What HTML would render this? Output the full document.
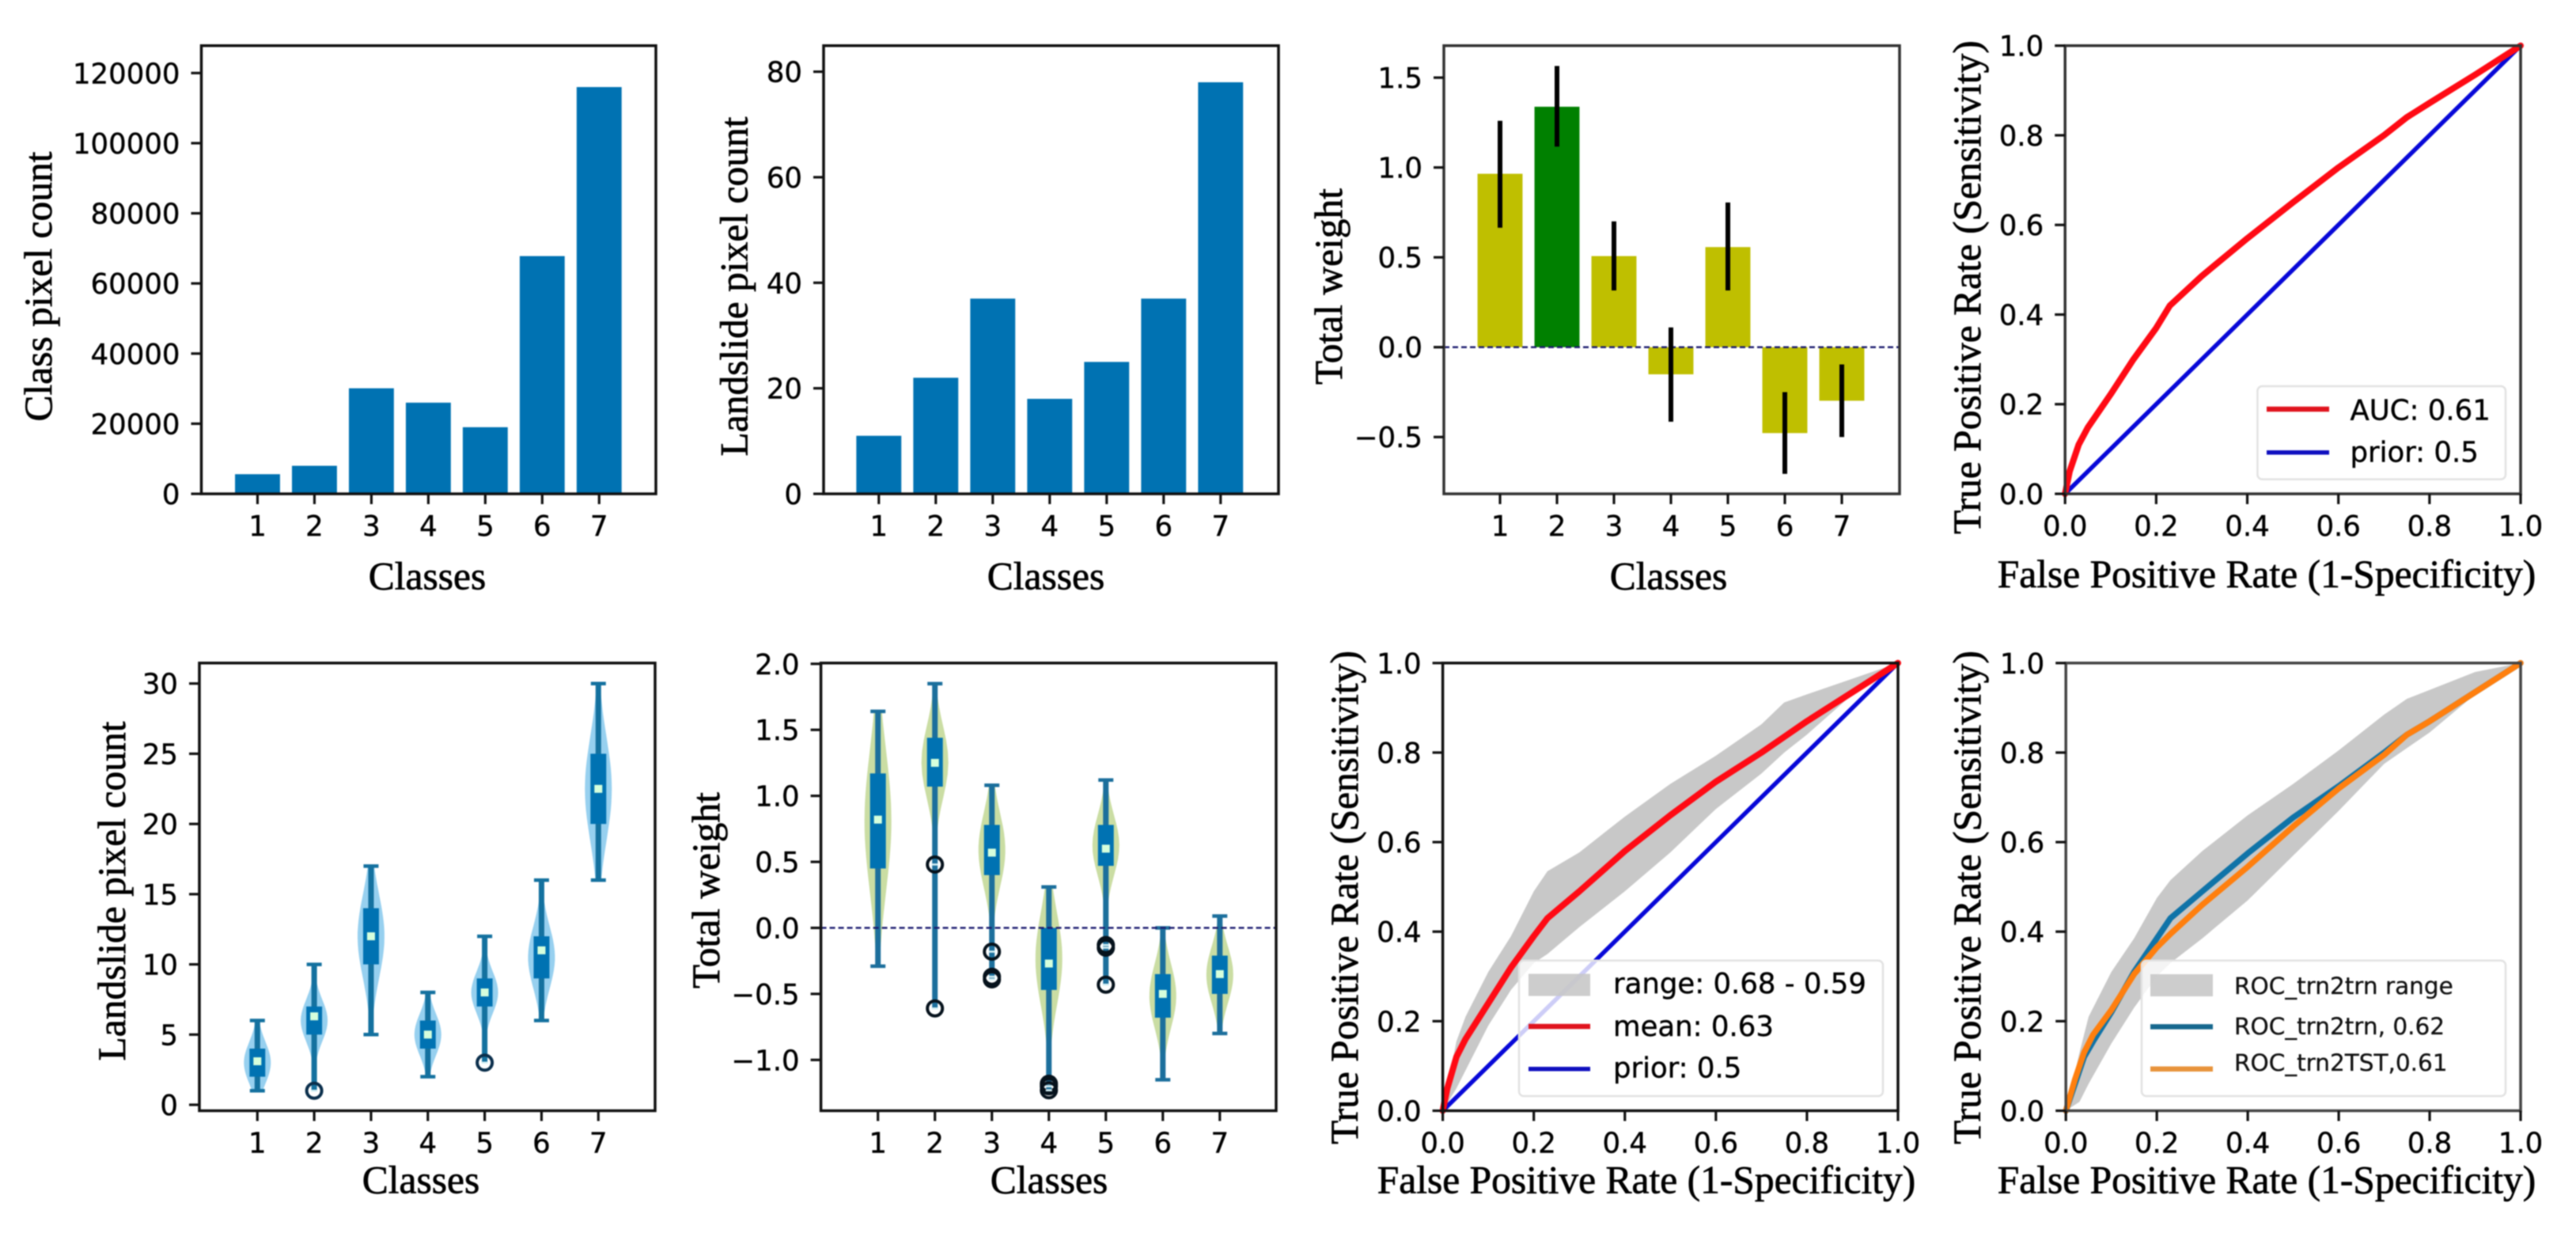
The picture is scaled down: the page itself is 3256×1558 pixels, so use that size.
<!DOCTYPE html>
<html lang="en">
<head>
<meta charset="utf-8">
<title>Landslide class statistics and ROC curves</title>
<style>
html,body{margin:0;padding:0;background:#fff;}
#figure{position:relative;width:3256px;height:1558px;overflow:hidden;background:#fff;}
svg{display:block;filter:blur(0.9px);}
.tick{font-family:"DejaVu Sans",sans-serif;font-size:35.5px;fill:#000;stroke:#000;stroke-width:.4px;}
.axis-label{font-family:"Liberation Serif",serif;font-size:49.5px;fill:#000;stroke:#000;stroke-width:.7px;}
.leg{font-family:"DejaVu Sans",sans-serif;font-size:35.5px;fill:#000;stroke:#000;stroke-width:.4px;}
.leg-small{font-family:"DejaVu Sans",sans-serif;font-size:29.5px;fill:#111;stroke:#111;stroke-width:.3px;}
</style>
</head>
<body>
<div id="figure">
<svg id="chart" width="3256" height="1558" viewBox="0 0 3256 1558" xmlns="http://www.w3.org/2000/svg"></svg>
</div>
<script>
// ---------- data ----------
const classes = [1, 2, 3, 4, 5, 6, 7];

const classPixelCounts = [5600, 8000, 30100, 26000, 19000, 67800, 116000];
const classPixelTicks = [0, 20000, 40000, 60000, 80000, 100000, 120000];
const classPixelTickLabels = ['0', '20000', '40000', '60000', '80000', '100000', '120000'];

const landslidePixelCounts = [11, 22, 37, 18, 25, 37, 78];
const landslideTicks = [0, 20, 40, 60, 80];
const landslideTickLabels = ['0', '20', '40', '60', '80'];

const totalWeights = [0.965, 1.338, 0.507, -0.151, 0.557, -0.478, -0.298];
const totalWeightErrLow = [0.665, 1.116, 0.316, -0.415, 0.316, -0.705, -0.50];
const totalWeightErrHigh = [1.26, 1.565, 0.70, 0.11, 0.805, -0.25, -0.096];
const bestClassIndex = 1;
const weightBarTicks = [-0.5, 0, 0.5, 1, 1.5];
const weightBarTickLabels = ['\u22120.5', '0.0', '0.5', '1.0', '1.5'];

const countMin = [1, 2, 5, 2, 4, 6, 16];
const countQ1 = [2, 5, 10, 4, 7, 9, 20];
const countMean = [3.1, 6.3, 12, 5, 8, 11, 22.5];
const countQ3 = [4, 7, 14, 6, 9, 12, 25];
const countMax = [6, 10, 17, 8, 12, 16, 30];
const countOutliers = [[], [1], [], [], [3], [], []];
const countTicks = [0, 5, 10, 15, 20, 25, 30];
const countTickLabels = ['0', '5', '10', '15', '20', '25', '30'];

const weightMin = [-0.29, -0.55, -0.35, -1.1, -0.4, -1.15, -0.8];
const weightQ1 = [0.45, 1.07, 0.40, -0.47, 0.47, -0.68, -0.5];
const weightMean = [0.82, 1.25, 0.57, -0.27, 0.6, -0.5, -0.35];
const weightQ3 = [1.17, 1.44, 0.78, 0, 0.78, -0.35, -0.21];
const weightMax = [1.64, 1.85, 1.08, 0.31, 1.12, 0, 0.09];
const weightOutliers = [[], [0.48, -0.61], [-0.18, -0.37, -0.39], [-1.18, -1.2, -1.23], [-0.13, -0.15, -0.43], [], []];
const weightTicks = [-1, -0.5, 0, 0.5, 1, 1.5, 2];
const weightTickLabels = ['\u22121.0', '\u22120.5', '0.0', '0.5', '1.0', '1.5', '2.0'];

const rocTicks = [0, 0.2, 0.4, 0.6, 0.8, 1];
const rocTickLabels = ['0.0', '0.2', '0.4', '0.6', '0.8', '1.0'];
const priorFpr = [0, 1];
const priorTpr = [0, 1];

const singleFpr = [0, 0.01, 0.03, 0.05, 0.1, 0.15, 0.2, 0.23, 0.3, 0.4, 0.5, 0.6, 0.7, 0.75, 0.8, 0.9, 1];
const singleTpr = [0, 0.05, 0.11, 0.148, 0.222, 0.30, 0.37, 0.42, 0.486, 0.57, 0.65, 0.728, 0.80, 0.84, 0.872, 0.935, 1];

const meanFpr = [0, 0.01, 0.03, 0.05, 0.1, 0.15, 0.2, 0.23, 0.3, 0.4, 0.5, 0.6, 0.7, 0.75, 0.8, 0.9, 1];
const meanTpr = [0, 0.05, 0.12, 0.16, 0.24, 0.32, 0.39, 0.43, 0.49, 0.58, 0.66, 0.735, 0.80, 0.835, 0.87, 0.935, 1];

const bandFpr = [0, 0.03, 0.05, 0.1, 0.15, 0.2, 0.23, 0.3, 0.4, 0.5, 0.6, 0.7, 0.75, 0.8, 0.9, 1];
const meanBandLow = [0, 0.05, 0.09, 0.19, 0.27, 0.33, 0.35, 0.41, 0.49, 0.577, 0.674, 0.753, 0.80, 0.84, 0.93, 1];
const meanBandHigh = [0, 0.155, 0.21, 0.31, 0.39, 0.49, 0.535, 0.577, 0.657, 0.73, 0.793, 0.863, 0.912, 0.93, 0.965, 1];
const trnBandLow = [0, 0.02, 0.06, 0.15, 0.23, 0.30, 0.33, 0.385, 0.47, 0.57, 0.67, 0.775, 0.81, 0.845, 0.93, 1];
const trnBandHigh = [0, 0.13, 0.21, 0.31, 0.385, 0.475, 0.515, 0.58, 0.66, 0.73, 0.805, 0.885, 0.92, 0.94, 0.98, 1];

const trnFpr = [0, 0.02, 0.04, 0.06, 0.1, 0.15, 0.2, 0.23, 0.3, 0.4, 0.5, 0.6, 0.7, 0.75, 0.8, 0.9, 1];
const trnTpr = [0, 0.06, 0.12, 0.155, 0.22, 0.31, 0.385, 0.43, 0.49, 0.575, 0.655, 0.725, 0.80, 0.84, 0.87, 0.935, 1];
const tstFpr = [0, 0.02, 0.04, 0.06, 0.1, 0.15, 0.2, 0.23, 0.3, 0.4, 0.5, 0.6, 0.7, 0.75, 0.8, 0.9, 1];
const tstTpr = [0, 0.07, 0.13, 0.17, 0.225, 0.305, 0.365, 0.395, 0.46, 0.545, 0.635, 0.72, 0.795, 0.84, 0.87, 0.935, 1];

// ---------- helpers ----------
const NS = 'http://www.w3.org/2000/svg';
const root = document.getElementById('chart');

function mk(tag, attrs, parent) {
  const el = document.createElementNS(NS, tag);
  for (const k in attrs) el.setAttribute(k, attrs[k]);
  parent.appendChild(el);
  return el;
}
function linear(d0, d1, p0, p1) {
  return function (v) { return p0 + (v - d0) * (p1 - p0) / (d1 - d0); };
}
function linePath(xs, ys, sx, sy) {
  return xs.map(function (x, i) { return (i ? 'L' : 'M') + sx(x).toFixed(2) + ' ' + sy(ys[i]).toFixed(2); }).join('');
}

// Frame, ticks, tick labels and axis titles for one panel.
function axes(p) {
  const g = mk('g', {}, root);
  
  
  const marks = mk('g', {}, g);
  
  
  const frameGroup = mk('g', {}, root);
  
  
  const frame = mk('rect', {x: p.left, y: p.top, width: p.right - p.left, height: p.bottom - p.top, fill: 'none', stroke: p.color, 'stroke-width': 3.5}, frameGroup);
  
  
  p.xTicks.forEach(function (v, i) {
    const t = mk('line', {x1: p.sx(v), x2: p.sx(v), y1: p.bottom, y2: p.bottom + 13, stroke: '#111', 'stroke-width': 3.2}, frameGroup);
    
    
    const l = mk('text', {x: p.sx(v), y: p.bottom + 53, 'text-anchor': 'middle', class: 'tick'}, frameGroup);
    l.textContent = p.xLabels[i];
    
    
  });
  p.yTicks.forEach(function (v, i) {
    const t = mk('line', {x1: p.left - 13, x2: p.left, y1: p.sy(v), y2: p.sy(v), stroke: '#111', 'stroke-width': 3.2}, frameGroup);
    
    
    const l = mk('text', {x: p.left - 27, y: p.sy(v) + 13, 'text-anchor': 'end', class: 'tick'}, frameGroup);
    l.textContent = p.yLabels[i];
    
    
  });
  const xt = mk('text', {x: p.xTitleX, y: p.xTitleY, 'text-anchor': 'middle', class: 'axis-label'}, frameGroup);
  xt.textContent = p.xTitle;
  
  
  const yt = mk('text', {transform: 'translate(' + p.yTitleX + ',' + p.yTitleY + ') rotate(-90)', 'text-anchor': 'middle', class: 'axis-label'}, frameGroup);
  yt.textContent = p.yTitle;
  
  
  return marks;
}

function barPanel(marks, p, values, colorOf) {
  const w = 0.79 * (p.sx(2) - p.sx(1));
  values.forEach(function (v, i) {
    const y0 = p.sy(0), y1 = p.sy(v);
    const b = mk('rect', {x: p.sx(classes[i]) - w / 2, y: Math.min(y0, y1), width: w, height: Math.abs(y1 - y0), fill: colorOf(i)}, marks);
    
    
  });
}

function violinPanel(marks, p, st, style) {
  classes.forEach(function (c, i) {
    const x = p.sx(c);
    const centre = (st.q1[i] + st.q3[i]) / 2;
    const sigma = Math.max((st.q3[i] - st.q1[i]) / 1.35, 1e-6);
    const left = [], right = [];
    const steps = 28;
    for (let k = 0; k <= steps; k++) {
      const v = st.min[i] + (st.max[i] - st.min[i]) * k / steps;
      const hw = style.halfWidth * Math.exp(-0.5 * Math.pow((v - centre) / sigma, 2));
      left.push((x - hw).toFixed(1) + ',' + p.sy(v).toFixed(1));
      right.unshift((x + hw).toFixed(1) + ',' + p.sy(v).toFixed(1));
    }
    const shape = mk('polygon', {points: left.concat(right).join(' '), fill: style.violin, 'fill-opacity': style.opacity}, marks);
    
    

    const bottomWhisker = st.out[i].length ? Math.min.apply(null, st.out[i].concat(st.min[i])) : st.min[i];
    const whisk = mk('line', {x1: x, x2: x, y1: p.sy(st.max[i]), y2: p.sy(bottomWhisker), stroke: style.whisker, 'stroke-width': 7}, marks);
    
    

    const capTop = mk('line', {x1: x - 9.5, x2: x + 9.5, y1: p.sy(st.max[i]), y2: p.sy(st.max[i]), stroke: style.whisker, 'stroke-width': 4.5}, marks);
    
    

    if (!st.out[i].length) {
      const capLow = mk('line', {x1: x - 9.5, x2: x + 9.5, y1: p.sy(st.min[i]), y2: p.sy(st.min[i]), stroke: style.whisker, 'stroke-width': 4.5}, marks);
      
      
    }

    const box = mk('rect', {x: x - 10, y: p.sy(st.q3[i]), width: 20, height: p.sy(st.q1[i]) - p.sy(st.q3[i]), fill: '#0072b2'}, marks);
    
    

    const dot = mk('rect', {x: x - 5, y: p.sy(st.mean[i]) - 5, width: 10, height: 10, fill: '#d6ffdc'}, marks);
    
    

    st.out[i].forEach(function (o, j) {
      const ring = mk('circle', {cx: x, cy: p.sy(o), r: 9.5, fill: 'none', stroke: style.ring, 'stroke-width': 4}, marks);
      
      
      const dash = mk('line', {x1: x - 4, x2: x + 4, y1: p.sy(o), y2: p.sy(o), stroke: '#d6f0f5', 'stroke-width': 2.5}, marks);
      
      
    });
  });
}

function zeroLine(marks, p) {
  const z = mk('line', {x1: p.left, x2: p.right, y1: p.sy(0), y2: p.sy(0), stroke: '#1a1a6e', 'stroke-width': 2.4, 'stroke-dasharray': '7 4'}, marks);
  
  
}

function band(marks, p, fpr, low, high, name) {
  const up = fpr.map(function (x, i) { return p.sx(x).toFixed(2) + ',' + p.sy(high[i]).toFixed(2); });
  const dn = fpr.map(function (x, i) { return p.sx(x).toFixed(2) + ',' + p.sy(low[i]).toFixed(2); }).reverse();
  const b = mk('polygon', {points: up.concat(dn).join(' '), fill: '#c8c8c8'}, marks);
  
  
}
function curve(marks, p, xs, ys, color, width, name) {
  const c = mk('path', {d: linePath(xs, ys, p.sx, p.sy), fill: 'none', stroke: color, 'stroke-width': width, 'stroke-linejoin': 'round', 'stroke-linecap': 'round'}, marks);
  
  
}

function legend(box, entries, textClass) {
  const g = mk('g', {}, root);
  
  
  const r = mk('rect', {x: box.x, y: box.y, width: box.w, height: box.h, rx: 6, fill: 'rgba(255,255,255,0.8)', stroke: '#e2e2e2', 'stroke-width': 2.5}, g);
  
  
  entries.forEach(function (e) {
    let sw;
    if (e.patch) {
      sw = mk('rect', {x: box.sx, y: e.sy - 14, width: box.sw, height: 28, fill: '#c8c8c8', 'fill-opacity': 0.9}, g);
    } else {
      sw = mk('line', {x1: box.sx, x2: box.sx + box.sw, y1: e.sy, y2: e.sy, stroke: e.color, 'stroke-width': e.width}, g);
    }
    
    
    const t = mk('text', {x: box.tx, y: e.ty, class: textClass}, g);
    t.textContent = e.label;
    
    
  });
}

// ---------- top row ----------
const TOP1 = 57.7, BOT1 = 624, TOP2 = 837.8, BOT2 = 1403.5;

const p1 = {name: 'class-pixel-count-panel', left: 254.5, right: 829, top: TOP1, bottom: BOT1, color: '#111',
  sx: linear(1, 7, 325.5, 757.3), sy: linear(0, 120000, 624, 92.3),
  xTicks: classes, xLabels: classes.map(String), yTicks: classPixelTicks, yLabels: classPixelTickLabels,
  xTitle: 'Classes', xTitleX: 540, xTitleY: 744.5, yTitle: 'Class pixel count', yTitleX: 65, yTitleY: 362};
barPanel(axes(p1), p1, classPixelCounts, function () { return '#0072b2'; });

const p2 = {name: 'landslide-pixel-count-panel', left: 1041, right: 1616, top: TOP1, bottom: BOT1, color: '#111',
  sx: linear(1, 7, 1110.8, 1542.8), sy: linear(0, 80, 624, 90.6),
  xTicks: classes, xLabels: classes.map(String), yTicks: landslideTicks, yLabels: landslideTickLabels,
  xTitle: 'Classes', xTitleX: 1322, xTitleY: 744.5, yTitle: 'Landslide pixel count', yTitleX: 944.5, yTitleY: 362};
barPanel(axes(p2), p2, landslidePixelCounts, function () { return '#0072b2'; });

const p3 = {name: 'total-weight-bar-panel', left: 1825, right: 2401, top: TOP1, bottom: BOT1, color: '#333',
  sx: linear(1, 7, 1896, 2328), sy: linear(0, 1.5, 438.7, 98.1),
  xTicks: classes, xLabels: classes.map(String), yTicks: weightBarTicks, yLabels: weightBarTickLabels,
  xTitle: 'Classes', xTitleX: 2109, xTitleY: 744.5, yTitle: 'Total weight', yTitleX: 1696, yTitleY: 362};
const m3 = axes(p3);
barPanel(m3, p3, totalWeights, function (i) { return i === bestClassIndex ? '#008000' : '#bfbf00'; });
zeroLine(m3, p3);
classes.forEach(function (c, i) {
  const e = mk('line', {x1: p3.sx(c), x2: p3.sx(c), y1: p3.sy(totalWeightErrHigh[i]), y2: p3.sy(totalWeightErrLow[i]), stroke: '#000', 'stroke-width': 6}, m3);
  
  
});

const p4 = {name: 'roc-single-panel', left: 2610.2, right: 3186, top: TOP1, bottom: BOT1, color: '#333',
  sx: linear(0, 1, 2610.2, 3186), sy: linear(0, 1, 624, 57.7),
  xTicks: rocTicks, xLabels: rocTickLabels, yTicks: rocTicks, yLabels: rocTickLabels,
  xTitle: 'False Positive Rate (1-Specificity)', xTitleX: 2865, xTitleY: 742,
  yTitle: 'True Positive Rate (Sensitivity)', yTitleX: 2503, yTitleY: 363};
const m4 = axes(p4);
curve(m4, p4, priorFpr, priorTpr, '#0808d8', 5.5, 'prior-line');
curve(m4, p4, singleFpr, singleTpr, '#ff0a14', 8, 'auc-curve');
legend({x: 2853.4, y: 488, w: 313.6, h: 117.6, sx: 2865, sw: 79, tx: 2970.5}, [
  {id: 'auc', color: '#e0141e', width: 6.5, sy: 517, ty: 530.4, label: 'AUC: 0.61'},
  {id: 'prior', color: '#1010c0', width: 5.5, sy: 571.7, ty: 583.7, label: 'prior: 0.5'}
], 'leg');

// ---------- bottom row ----------
const p5 = {name: 'landslide-violin-panel', left: 252, right: 828, top: TOP2, bottom: BOT2, color: '#111',
  sx: linear(1, 7, 325.3, 756.3), sy: linear(0, 30, 1396, 863.7),
  xTicks: classes, xLabels: classes.map(String), yTicks: countTicks, yLabels: countTickLabels,
  xTitle: 'Classes', xTitleX: 532, xTitleY: 1507.6, yTitle: 'Landslide pixel count', yTitleX: 158, yTitleY: 1126};
violinPanel(axes(p5), p5, {min: countMin, q1: countQ1, mean: countMean, q3: countQ3, max: countMax, out: countOutliers},
  {halfWidth: 17, violin: '#6bbce8', opacity: 0.7, whisker: '#14719f', ring: '#0b2f4c'});

const p6 = {name: 'total-weight-violin-panel', left: 1037.6, right: 1613, top: TOP2, bottom: BOT2, color: '#111',
  sx: linear(1, 7, 1109.7, 1541.8), sy: linear(-1, 2, 1339.3, 838.8),
  xTicks: classes, xLabels: classes.map(String), yTicks: weightTicks, yLabels: weightTickLabels,
  xTitle: 'Classes', xTitleX: 1326, xTitleY: 1507.6, yTitle: 'Total weight', yTitleX: 909, yTitleY: 1125};
const m6 = axes(p6);
violinPanel(m6, p6, {min: weightMin, q1: weightQ1, mean: weightMean, q3: weightQ3, max: weightMax, out: weightOutliers},
  {halfWidth: 17, violin: '#b3cf7c', opacity: 0.7, whisker: '#1c6f9c', ring: '#06121c'});
zeroLine(m6, p6);

const p7 = {name: 'roc-mean-panel', left: 1823.6, right: 2399, top: TOP2, bottom: BOT2, color: '#111',
  sx: linear(0, 1, 1823.6, 2399), sy: linear(0, 1, 1403.5, 837.8),
  xTicks: rocTicks, xLabels: rocTickLabels, yTicks: rocTicks, yLabels: rocTickLabels,
  xTitle: 'False Positive Rate (1-Specificity)', xTitleX: 2081, xTitleY: 1507.6,
  yTitle: 'True Positive Rate (Sensitivity)', yTitleX: 1716, yTitleY: 1134};
const m7 = axes(p7);
band(m7, p7, bandFpr, meanBandLow, meanBandHigh, 'roc-range-band');
curve(m7, p7, priorFpr, priorTpr, '#0808d8', 5.5, 'prior-line');
curve(m7, p7, meanFpr, meanTpr, '#ff0a14', 8, 'mean-curve');
legend({x: 1920, y: 1213.7, w: 460, h: 171.3, sx: 1932, sw: 78, tx: 2039}, [
  {id: 'range', patch: true, sy: 1244.5, ty: 1255, label: 'range: 0.68 - 0.59'},
  {id: 'mean', color: '#e0141e', width: 6.5, sy: 1297, ty: 1309, label: 'mean: 0.63'},
  {id: 'prior', color: '#1010c0', width: 5.5, sy: 1350.7, ty: 1361.7, label: 'prior: 0.5'}
], 'leg');

const p8 = {name: 'roc-comparison-panel', left: 2611.2, right: 3186, top: TOP2, bottom: BOT2, color: '#444',
  sx: linear(0, 1, 2611.2, 3186), sy: linear(0, 1, 1403.5, 837.8),
  xTicks: rocTicks, xLabels: rocTickLabels, yTicks: rocTicks, yLabels: rocTickLabels,
  xTitle: 'False Positive Rate (1-Specificity)', xTitleX: 2865, xTitleY: 1507.6,
  yTitle: 'True Positive Rate (Sensitivity)', yTitleX: 2503, yTitleY: 1134};
const m8 = axes(p8);
band(m8, p8, bandFpr, trnBandLow, trnBandHigh, 'roc-trn2trn-range-band');
curve(m8, p8, trnFpr, trnTpr, '#0f73a8', 7.5, 'roc-trn2trn-curve');
curve(m8, p8, tstFpr, tstTpr, '#ff7f0e', 7.5, 'roc-trn2tst-curve');
legend({x: 2707, y: 1213.7, w: 460, h: 171.3, sx: 2718, sw: 79, tx: 2824}, [
  {id: 'trn2trn-range', patch: true, sy: 1245, ty: 1256, label: 'ROC_trn2trn range'},
  {id: 'trn2trn', color: '#17688f', width: 6.5, sy: 1297.4, ty: 1307, label: 'ROC_trn2trn, 0.62'},
  {id: 'trn2tst', color: '#e8943c', width: 6.5, sy: 1350.7, ty: 1353, label: 'ROC_trn2TST,0.61'}
], 'leg-small');
</script>
</body>
</html>
